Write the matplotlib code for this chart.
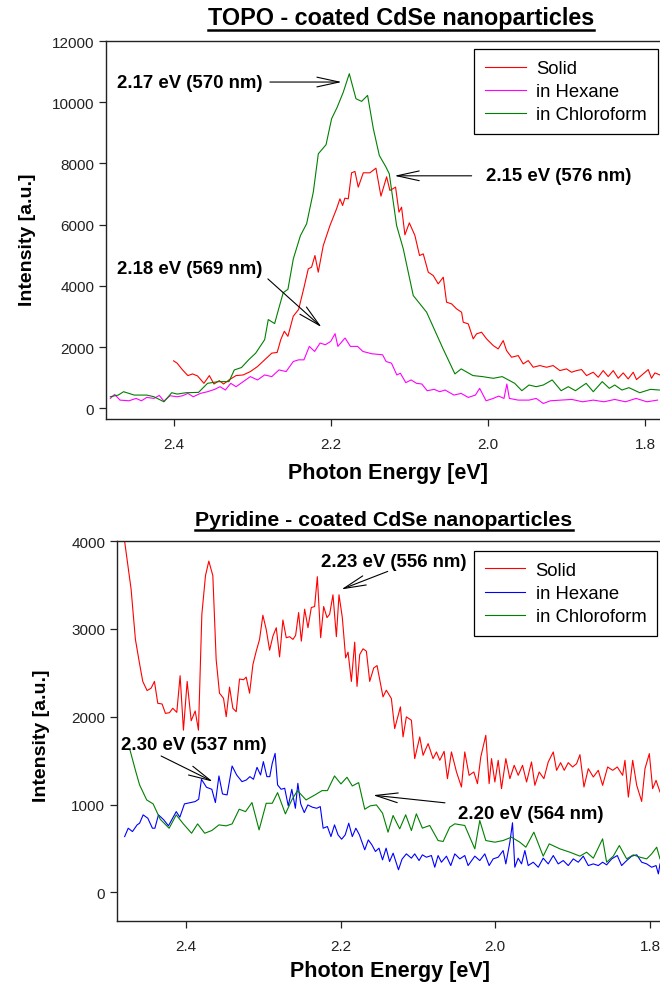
import matplotlib
matplotlib.use("Agg")
import matplotlib.pyplot as plt
from matplotlib.lines import Line2D

plt.rcParams['font.family'] = ['Liberation Sans', 'DejaVu Sans']

# ---- TOPO-coated CdSe (top panel) ----
top_solid_x = [2.400, 2.3955, 2.3886, 2.3818, 2.3759, 2.3695, 2.3614, 2.3545, 2.3486, 2.3418,
               2.3364, 2.3295, 2.3205, 2.3114, 2.3023, 2.2932, 2.2841, 2.2750, 2.2682, 2.2636,
               2.2591, 2.2545, 2.2477, 2.2409, 2.2341, 2.2286, 2.2244, 2.2201, 2.2159, 2.2095,
               2.2010, 2.1926, 2.1883, 2.1849, 2.1820, 2.1777, 2.1735, 2.1692, 2.1650, 2.1586,
               2.1501, 2.1425, 2.1361, 2.1289, 2.1247, 2.1175, 2.1132, 2.1099, 2.1056, 2.1000,
               2.0929, 2.0870, 2.0823, 2.0759, 2.0696, 2.0632, 2.0568, 2.0526, 2.0462, 2.0399,
               2.0335, 2.0314, 2.0250, 2.0187, 2.0145, 2.0081, 2.0017, 1.9932, 1.9869, 1.9805,
               1.9763, 1.9699, 1.9614, 1.9551, 1.9487, 1.9423, 1.9339, 1.9254, 1.9170, 1.9084,
               1.9000, 1.8936, 1.8872, 1.8808, 1.8745, 1.8660, 1.8596, 1.8533, 1.8469, 1.8405,
               1.8342, 1.8278, 1.8215, 1.8151, 1.8109, 1.8024, 1.7960, 1.7918, 1.7875, 1.7812]
top_solid_y = [1556, 1480, 1260, 1074, 1129, 1063, 822, 1074, 800, 910,
               800, 932, 1074, 1096, 1206, 1370, 1589, 1808, 1830, 2247,
               2521, 2356, 3014, 3233, 3946, 4560, 4614, 4995, 4451, 5322,
               5975, 6520, 6846, 6629, 6868, 6846, 7696, 7740, 7228, 7696,
               7696, 7848, 6934, 7565, 7119, 7228, 6411, 6574, 5670, 6062,
               5649, 4995, 5050, 4451, 4342, 4070, 4287, 3471, 3416, 3253,
               3144, 2817, 2763, 2273, 2436, 2491, 2273, 2055, 1946, 2218,
               1892, 1674, 1728, 1456, 1565, 1347, 1402, 1347, 1402, 1238,
               1293, 1184, 1238, 1271, 1075, 1184, 1020, 1238, 1042, 1238,
               988, 1162, 966, 1184, 944, 1129, 1271, 988, 1162, 1097]

top_hexane_x = [2.4805, 2.4750, 2.4682, 2.4568, 2.4477, 2.4409, 2.4341, 2.4250, 2.4182, 2.4123,
                2.4045, 2.3955, 2.3886, 2.3818, 2.3750, 2.3659, 2.3568, 2.3477, 2.3409, 2.3341,
                2.3273, 2.3205, 2.3114, 2.3023, 2.2932, 2.2841, 2.2750, 2.2659, 2.2568, 2.2477,
                2.2409, 2.2341, 2.2273, 2.2205, 2.2136, 2.2068, 2.2000, 2.1945, 2.1909, 2.1818,
                2.1750, 2.1659, 2.1591, 2.1477, 2.1341, 2.1295, 2.1227, 2.1159, 2.1114, 2.1045,
                2.0977, 2.0909, 2.0841, 2.0773, 2.0682, 2.0614, 2.0545, 2.0432, 2.0341, 2.0250,
                2.0159, 2.0105, 2.0023, 1.9932, 1.9864, 1.9795, 1.9759, 1.9727, 1.9614, 1.9477,
                1.9386, 1.9295, 1.9205, 1.9068, 1.8932, 1.8795, 1.8659, 1.8523, 1.8386, 1.8250,
                1.8114, 1.7977, 1.7841]
top_hexane_y = [329, 460, 274, 252, 329, 252, 362, 329, 427, 241,
                416, 384, 416, 493, 384, 493, 548, 625, 712, 603,
                822, 712, 877, 1041, 932, 1096, 1041, 1260, 1206, 1534,
                1589, 1589, 2028, 1863, 2137, 2082, 2192, 2444, 2028, 2302,
                2028, 2028, 1863, 1787, 1754, 1534, 1480, 1096, 1151, 844,
                932, 822, 800, 581, 625, 548, 603, 438, 493, 362,
                438, 658, 252, 329, 405, 329, 800, 329, 274, 274,
                329, 164, 252, 274, 296, 219, 274, 219, 296, 219,
                329, 219, 274]

top_chloro_x = [2.4805, 2.4705, 2.4636, 2.4500, 2.4341, 2.4250, 2.4123, 2.4023, 2.3955, 2.3841,
                2.3682, 2.3568, 2.3432, 2.3295, 2.3227, 2.3136, 2.3045, 2.2955, 2.2841, 2.2795,
                2.2714, 2.2659, 2.2605, 2.2545, 2.2476, 2.2386, 2.2307, 2.2222, 2.2158, 2.2060,
                2.1989, 2.1917, 2.1840, 2.1764, 2.1679, 2.1607, 2.1531, 2.1458, 2.1382, 2.1297,
                2.1255, 2.1162, 2.1077, 2.0950, 2.0780, 2.0570, 2.0420, 2.0340, 2.0190, 2.0068,
                1.9932, 1.9818, 1.9659, 1.9568, 1.9477, 1.9386, 1.9295, 1.9182, 1.9068, 1.8977,
                1.8886, 1.8750, 1.8659, 1.8545, 1.8455, 1.8386, 1.8295, 1.8205, 1.8068, 1.7932,
                1.7818]
top_chloro_y = [384, 438, 548, 438, 438, 384, 219, 515, 471, 515,
                526, 822, 877, 877, 1260, 1337, 1589, 1808, 2247, 2904,
                2773, 3288, 3781, 3891, 4888, 5644, 6031, 7066, 8318, 8612,
                9462, 9843, 10333, 10932, 10115, 10028, 10224, 9135, 8264, 7883,
                7663, 5975, 5213, 3688, 3144, 1946, 1129, 1293, 1075, 1041,
                986, 1041, 822, 581, 767, 712, 767, 932, 581, 712,
                581, 822, 548, 877, 658, 767, 603, 680, 515, 625,
                603]

# ---- Pyridine-coated CdSe (bottom panel) ----
bot_solid_x = [2.4815, 2.4773, 2.4708, 2.4652, 2.4600, 2.4557, 2.4501, 2.4449, 2.4406, 2.4363,
               2.4307, 2.4264, 2.4212, 2.4169, 2.4117, 2.4074, 2.4031, 2.3983, 2.3931, 2.3879,
               2.3837, 2.3793, 2.3746, 2.3703, 2.3651, 2.3608, 2.3565, 2.3513, 2.3478, 2.3435,
               2.3392, 2.3349, 2.3306, 2.3254, 2.3220, 2.3176, 2.3133, 2.3090, 2.3047, 2.3004,
               2.2961, 2.2917, 2.2874, 2.2831, 2.2788, 2.2745, 2.2702, 2.2659, 2.2615, 2.2581,
               2.2542, 2.2507, 2.2464, 2.2421, 2.2378, 2.2335, 2.2300, 2.2257, 2.2218, 2.2175,
               2.2141, 2.2098, 2.2054, 2.2020, 2.1977, 2.1934, 2.1903, 2.1860, 2.1817, 2.1787,
               2.1752, 2.1709, 2.1666, 2.1623, 2.1571, 2.1528, 2.1485, 2.1451, 2.1408, 2.1343,
               2.1300, 2.1226, 2.1192, 2.1149, 2.1084, 2.1041, 2.0976, 2.0933, 2.0868, 2.0804,
               2.0760, 2.0717, 2.0661, 2.0618, 2.0566, 2.0501, 2.0437, 2.0394, 2.0338, 2.0277,
               2.0230, 2.0187, 2.0122, 2.0079, 2.0048, 2.0005, 1.9962, 1.9919, 1.9863, 1.9811,
               1.9755, 1.9703, 1.9647, 1.9595, 1.9531, 1.9488, 1.9432, 1.9371, 1.9315, 1.9250,
               1.9207, 1.9155, 1.9108, 1.9056, 1.9000, 1.8948, 1.8905, 1.8853, 1.8797, 1.8732,
               1.8668, 1.8612, 1.8547, 1.8482, 1.8422, 1.8353, 1.8323, 1.8279, 1.8223, 1.8171,
               1.8107, 1.8064, 1.8008, 1.7965, 1.7921, 1.7870]
bot_solid_y = [4150, 3874, 3453, 2880, 2612, 2402, 2298, 2325, 2402, 2153,
               2145, 2038, 2046, 2096, 2050, 2467, 1847, 2402, 1954, 2065,
               1847, 3166, 3606, 3771, 3606, 2651, 2268, 2210, 2000, 2337,
               2096, 2057, 2429, 2421, 2451, 2268, 2593, 2746, 2880, 3155,
               2994, 2757, 2918, 3013, 2681, 3101, 2899, 2911, 2880, 2925,
               3185, 2860, 3224, 3013, 3243, 3254, 3594, 2899, 3254, 3128,
               3166, 3388, 2911, 3388, 3128, 2670, 2735, 2402, 2849, 2345,
               2708, 2773, 2746, 2402, 2555, 2582, 2383, 2226, 2302, 2207,
               1865, 2112, 1770, 1998, 1960, 1523, 1770, 1561, 1694, 1523,
               1599, 1504, 1606, 1295, 1599, 1371, 1200, 1599, 1333, 1371,
               1238, 1542, 1789, 1238, 1523, 1257, 1504, 1181, 1523, 1295,
               1447, 1333, 1447, 1257, 1485, 1219, 1371, 1295, 1485, 1599,
               1390, 1477, 1390, 1477, 1428, 1466, 1568, 1200, 1409, 1314,
               1390, 1219, 1428, 1390, 1428, 1333, 1504, 1085, 1504, 1219,
               1036, 1409, 1580, 1181, 1276, 1143]

bot_hexane_x = [2.4791, 2.4745, 2.4690, 2.4630, 2.4598, 2.4552, 2.4492, 2.4432, 2.4400, 2.4354,
                2.4285, 2.4225, 2.4170, 2.4124, 2.4078, 2.4018, 2.3940, 2.3880, 2.3834, 2.3798,
                2.3733, 2.3664, 2.3618, 2.3572, 2.3526, 2.3467, 2.3402, 2.3343, 2.3274, 2.3218,
                2.3172, 2.3126, 2.3080, 2.3034, 2.2998, 2.2952, 2.2915, 2.2883, 2.2846, 2.2814,
                2.2768, 2.2722, 2.2676, 2.2630, 2.2584, 2.2552, 2.2515, 2.2469, 2.2423, 2.2363,
                2.2308, 2.2262, 2.2225, 2.2170, 2.2124, 2.2078, 2.2032, 2.1986, 2.1940, 2.1894,
                2.1848, 2.1802, 2.1756, 2.1687, 2.1641, 2.1595, 2.1549, 2.1503, 2.1457, 2.1411,
                2.1366, 2.1320, 2.1251, 2.1205, 2.1149, 2.1084, 2.1041, 2.0985, 2.0942, 2.0890,
                2.0825, 2.0782, 2.0739, 2.0696, 2.0631, 2.0575, 2.0523, 2.0458, 2.0394, 2.0351,
                2.0264, 2.0200, 2.0135, 2.0079, 2.0027, 1.9962, 1.9898, 1.9863, 1.9811, 1.9777,
                1.9747, 1.9704, 1.9660, 1.9617, 1.9574, 1.9509, 1.9444, 1.9380, 1.9315, 1.9250,
                1.9186, 1.9121, 1.9056, 1.8991, 1.8927, 1.8862, 1.8797, 1.8732, 1.8668, 1.8612,
                1.8560, 1.8495, 1.8422, 1.8366, 1.8301, 1.8236, 1.8171, 1.8107, 1.8042, 1.7978,
                1.7921, 1.7891, 1.7870]
bot_hexane_y = [636, 731, 693, 769, 788, 883, 845, 731, 731, 883,
                826, 758, 845, 920, 856, 1008, 1023, 1034, 1061, 1288,
                1197, 1174, 1023, 1326, 1121, 1110, 1439, 1337, 1261, 1280,
                1318, 1288, 1424, 1337, 1489, 1318, 1318, 1470, 1583, 1224,
                1174, 1186, 985, 1174, 958, 1242, 1008, 909, 996, 970,
                958, 977, 731, 750, 636, 769, 655, 606, 655, 788,
                636, 731, 655, 485, 598, 542, 466, 504, 371, 504,
                352, 447, 258, 379, 439, 390, 439, 363, 428, 401,
                420, 287, 420, 344, 413, 306, 439, 382, 420, 306,
                413, 363, 439, 306, 382, 401, 477, 325, 572, 793,
                287, 390, 325, 477, 306, 344, 287, 390, 325, 420,
                325, 363, 306, 382, 344, 413, 306, 325, 306, 344,
                314, 382, 420, 306, 363, 413, 428, 344, 325, 287,
                306, 211, 325]

bot_chloro_x = [2.4722, 2.4653, 2.4598, 2.4506, 2.4423, 2.4331, 2.4216, 2.4124, 2.4032, 2.3926,
                2.3848, 2.3756, 2.3664, 2.3572, 2.3480, 2.3402, 2.3310, 2.3228, 2.3145, 2.3053,
                2.2961, 2.2883, 2.2814, 2.2713, 2.2630, 2.2557, 2.2446, 2.2331, 2.2239, 2.2170,
                2.2078, 2.1995, 2.1917, 2.1848, 2.1766, 2.1687, 2.1618, 2.1536, 2.1457, 2.1386,
                2.1321, 2.1235, 2.1158, 2.1084, 2.1020, 2.0942, 2.0847, 2.0739, 2.0674, 2.0588,
                2.0523, 2.0394, 2.0264, 2.0200, 2.0122, 2.0005, 1.9898, 1.9790, 1.9682, 1.9604,
                1.9501, 1.9380, 1.9302, 1.9164, 1.9035, 1.8905, 1.8819, 1.8732, 1.8612, 1.8560,
                1.8474, 1.8396, 1.8301, 1.8215, 1.8129, 1.8042, 1.7978, 1.7913, 1.7870]
bot_chloro_y = [1621, 1394, 1224, 1053, 1008, 833, 731, 883, 780, 674,
                780, 674, 705, 769, 758, 780, 947, 920, 1023, 712,
                1015, 1015, 1136, 894, 1053, 1159, 1053, 1110, 1159, 1159,
                1326, 1235, 1311, 1212, 1250, 947, 985, 996, 902, 686,
                876, 724, 884, 705, 895, 732, 762, 591, 580, 743,
                781, 762, 496, 819, 591, 572, 591, 629, 572, 515,
                686, 413, 553, 496, 458, 413, 458, 390, 610, 344,
                413, 534, 382, 428, 401, 382, 439, 515, 382]

legend_labels = ['Solid', 'in Hexane', 'in Chloroform']
x_ticks = [2.4, 2.2, 2.0, 1.8]

W, H = 660, 987
fig = plt.figure(figsize=(W / 100, H / 100), dpi=100)


def px_axes(left, top, right, bottom):
    return [left / W, 1 - bottom / H, (right - left) / W, (bottom - top) / H]


def style_axes(ax):
    ax.spines['right'].set_visible(False)
    for s in ['left', 'bottom', 'top']:
        ax.spines[s].set_linewidth(1.0)
        ax.spines[s].set_color('#222222')
    ax.tick_params(direction='out', length=5, width=0.9, labelsize=11,
                   colors='#222222', top=False, right=False)
    ax.tick_params(axis='x', pad=8)
    ax.set_xticks(x_ticks)
    ax.set_xticklabels(['%.1f' % t for t in x_ticks])


def add_label(ax, text, xy, xytext, tx, ty, ha='center'):
    ax.annotate('', xy=xy, xytext=xytext,
                arrowprops=dict(arrowstyle='->,head_length=1.6,head_width=0.35',
                                color='black', lw=0.8, shrinkA=0, shrinkB=0))
    ax.text(tx, ty, text, ha=ha, va='center', fontsize=13.4, fontweight='bold')


def make_legend(ax, anchor):
    leg = ax.legend(loc='upper left', bbox_to_anchor=anchor, borderaxespad=0,
                    fancybox=False, edgecolor='black', framealpha=1, fontsize=13.3,
                    handlelength=2.2, handletextpad=0.55, labelspacing=0.33, borderpad=0.6)
    leg.get_frame().set_linewidth(0.9)
    return leg


# top panel
ax1 = fig.add_axes(px_axes(106, 42, 660, 420))
ax1.plot(top_solid_x, top_solid_y, color='#ff0000', lw=0.8, label=legend_labels[0])
ax1.plot(top_hexane_x, top_hexane_y, color='#ff00ff', lw=0.8, label=legend_labels[1])
ax1.plot(top_chloro_x, top_chloro_y, color='#008000', lw=0.8, label=legend_labels[2])
ax1.set_xlim(2.486, 1.781)
ax1.set_ylim(-343, 12000)
ax1.set_yticks(range(0, 12001, 2000))
style_axes(ax1)
make_legend(ax1, (0.664, 0.979))

add_label(ax1, '2.17 eV (570 nm)', (2.186, 10660), (2.2774, 10660), 2.380, 10660)
add_label(ax1, '2.15 eV (576 nm)', (2.119, 7598), (2.0207, 7598), 2.0026, 7598, ha='left')
add_label(ax1, '2.18 eV (569 nm)', (2.2116, 2654), (2.280, 4232), 2.380, 4559)

# bottom panel
ax2 = fig.add_axes(px_axes(117, 542, 660, 922))
ax2.plot(bot_solid_x, bot_solid_y, color='#ff0000', lw=0.8, label=legend_labels[0])
ax2.plot(bot_hexane_x, bot_hexane_y, color='#0000ff', lw=0.8, label=legend_labels[1])
ax2.plot(bot_chloro_x, bot_chloro_y, color='#008000', lw=0.8, label=legend_labels[2])
ax2.set_xlim(2.489, 1.787)
ax2.set_ylim(-325, 4000)
ax2.set_yticks(range(0, 4001, 1000))
style_axes(ax2)
make_legend(ax2, (0.657, 0.974))

add_label(ax2, '2.23 eV (556 nm)', (2.199, 3449), (2.139, 3654), 2.131, 3768)
add_label(ax2, '2.30 eV (537 nm)', (2.365, 1261), (2.432, 1553), 2.3895, 1682)
add_label(ax2, '2.20 eV (564 nm)', (2.158, 1107), (2.065, 1020), 1.954, 895)

# axis labels
fig.text(388 / W, 1 - 474 / H, 'Photon Energy [eV]', ha='center', va='center',
         fontsize=15.5, fontweight='bold')
fig.text(390 / W, 1 - 972 / H, 'Photon Energy [eV]', ha='center', va='center',
         fontsize=15.5, fontweight='bold')
fig.text(27 / W, 1 - 240 / H, 'Intensity [a.u.]', ha='center', va='center',
         rotation=90, fontsize=14, fontweight='bold')
fig.text(42 / W, 1 - 736 / H, 'Intensity [a.u.]', ha='center', va='center',
         rotation=90, fontsize=14, fontweight='bold')

# titles with underline
titles = [fig.text(401 / W, 1 - 18 / H, 'TOPO - coated CdSe nanoparticles',
                   ha='center', va='center', fontsize=16.8, fontweight='bold'),
          fig.text(384 / W, 1 - 520 / H, 'Pyridine - coated CdSe nanoparticles',
                   ha='center', va='center', fontsize=15.3, fontweight='bold')]
fig.canvas.draw()
r = fig.canvas.get_renderer()
for t in titles:
    bb = t.get_window_extent(r)
    yline = (bb.y0 - 1) / H
    fig.add_artist(Line2D([bb.x0 / W, bb.x1 / W], [yline, yline], color='black', lw=1.8))

fig.savefig('out.png', dpi=100)
